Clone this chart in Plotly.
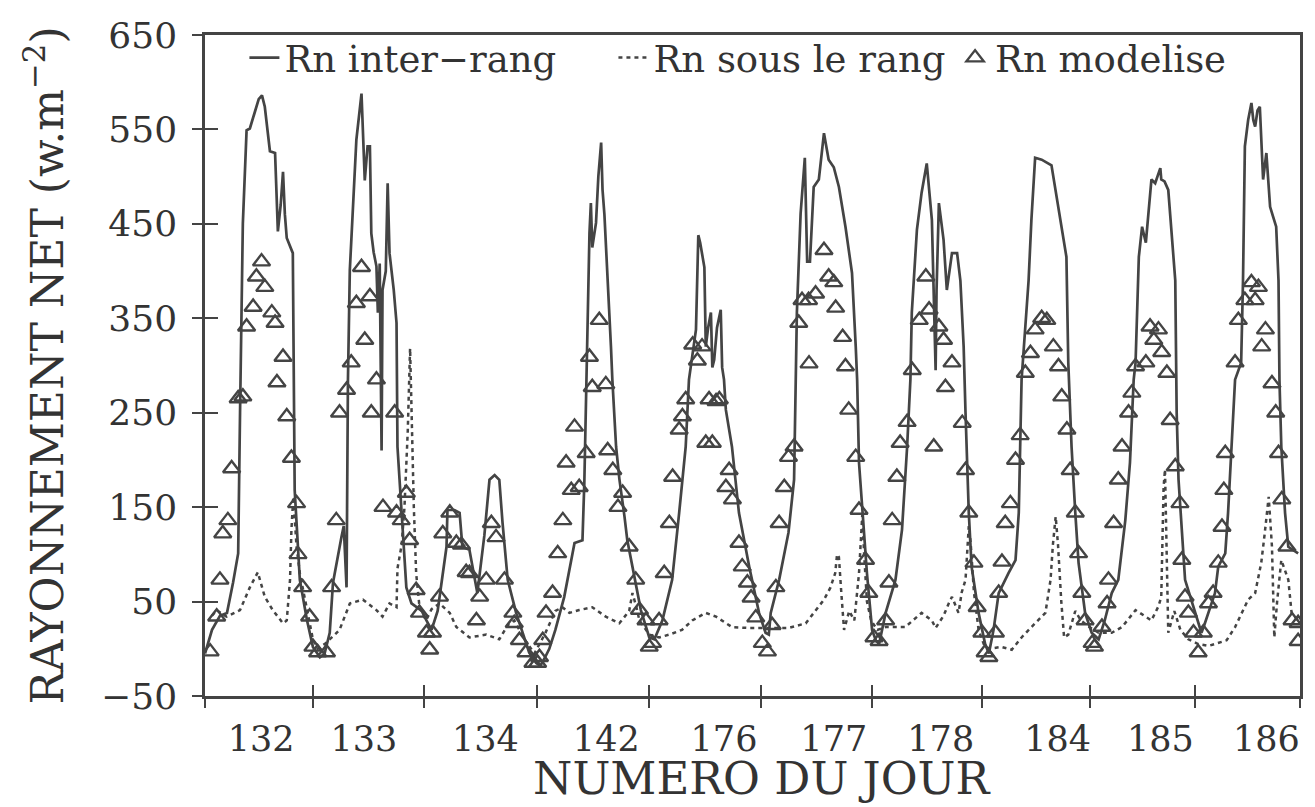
"""
Rayonnement net mesure (inter-rang, sous le rang) et modelise,
jours 132 a 186 mis bout a bout.
"""

import plotly.graph_objects as go

# Jours representes et position (heures depuis le debut) des etiquettes
DAYS = ["132", "133", "134", "142", "176", "177", "178", "184", "185", "186"]
LABEL_HOURS = [12.0, 34.0, 60.0, 85.9, 111.1, 134.6, 157.5, 182.5, 204.5, 227.2]
# Limites entre jours (heures cumulees)
DAY_BOUNDS = [0, 23.1, 46.8, 71.0, 95.1, 119.0, 142.8, 166.3, 189.5, 211.9, 234.4]
Y_TICKS = [-50, 50, 150, 250, 350, 450, 550, 650]

# Rn inter-rang (trait plein)
INTER_H = [
    0.0, 1.5, 3.2, 4.7, 6.0, 7.1, 7.5, 8.1, 8.9, 9.6, 10.7, 11.5, 12.2, 12.8,
    13.9, 15.0, 15.6, 16.2, 16.7, 17.1, 17.5, 18.8, 19.2, 19.7, 20.3, 21.8,
    23.1, 24.6, 25.6, 26.7, 27.4, 29.2, 29.7, 30.3, 30.6, 31.0, 32.4, 33.5,
    34.2, 34.8, 35.3, 35.6, 36.1, 36.7, 37.0, 37.4, 37.8, 38.0, 38.7, 39.1,
    39.5, 40.4, 41.0, 41.2, 42.3, 43.1, 44.2, 45.2, 46.4, 47.4, 48.5, 49.8,
    50.9, 51.7, 51.9, 53.4, 54.5, 55.1, 56.6, 58.3, 59.8, 60.9, 62.0, 63.0,
    63.7, 64.8, 66.6, 68.4, 69.4, 70.9, 71.8, 72.7, 73.7, 75.0, 76.9, 79.1,
    80.8, 81.2, 81.6, 81.8, 82.3, 82.6, 82.9, 83.7, 84.2, 84.8, 85.1, 85.5,
    85.8, 86.5, 86.9, 87.2, 88.0, 88.7, 89.8, 90.4, 91.5, 93.3, 95.1, 96.2,
    97.9, 100.0, 101.5, 102.9, 103.6, 105.1, 105.6, 106.0, 106.9, 107.2,
    107.7, 108.3, 108.6, 109.0, 109.6, 110.4, 110.7, 111.1, 111.5, 112.8,
    114.3, 116.5, 118.6, 120.0, 120.7, 121.1, 122.9, 124.9, 126.1, 126.4,
    126.7, 127.5, 128.4, 128.9, 129.5, 130.3, 131.4, 132.5, 133.5, 134.6,
    135.7, 137.1, 138.5, 139.3, 139.6, 140.0, 140.7, 141.7, 142.8, 143.6,
    144.3, 145.7, 147.8, 149.2, 150.3, 151.0, 151.3, 152.4, 153.4, 154.5,
    155.6, 156.0, 156.4, 156.6, 157.1, 158.1, 158.8, 159.9, 161.0, 161.7,
    162.4, 162.8, 163.5, 164.1, 165.6, 167.0, 167.8, 168.8, 169.9, 172.0,
    173.5, 174.2, 174.5, 174.8, 176.3, 176.9, 177.7, 179.1, 181.2, 182.7,
    184.4, 184.8, 185.5, 186.3, 187.0, 188.4, 189.8, 191.3, 192.6, 194.1,
    195.5, 197.0, 198.0, 198.8, 199.2, 199.9, 200.6, 201.4, 202.1, 202.6,
    203.4, 204.1, 204.5, 204.7, 205.4, 206.2, 206.9, 207.7, 208.0, 208.4,
    209.8, 212.0, 213.3, 213.9, 214.8, 216.2, 216.9, 218.4, 219.0, 219.7,
    220.5, 221.8, 222.2, 222.6, 223.3, 224.0, 224.4, 224.8, 225.3, 225.8,
    226.5, 227.2, 228.0, 229.3, 229.8, 230.0, 230.4, 231.2, 231.9, 234.0,
]
INTER_RN = [
    -5, 20, 35, 38, 70, 101, 250, 450, 549, 551, 569, 582, 586, 574,
    527, 525, 442, 470, 505, 460, 435, 419, 168, 126, 73, 31,
    2, -9, -5, 17, 70, 118, 130, 65, 285, 401, 539, 588,
    496, 532, 532, 440, 420, 405, 356, 408, 210, 380, 400, 493,
    419, 380, 345, 214, 126, 65, 48, 44, 40, 30, 20, 40,
    80, 108, 147, 147, 144, 108, 105, 59, 120, 179, 184, 179,
    133, 73, 38, 10, -4, -15, -18, -10, 0, 20, 55, 112,
    115, 176, 271, 348, 440, 472, 425, 451, 500, 536, 486, 460,
    425, 360, 320, 285, 214, 180, 140, 115, 87, 41, 12, 10,
    30, 73, 144, 214, 285, 338, 438, 430, 404, 320,
    340, 356, 298, 306, 340, 359, 298, 285, 253, 214,
    144, 87, 38, 17, 15, 38, 73, 123, 179, 285,
    356, 461, 520, 410, 410, 489, 497, 546, 518, 510,
    489, 447, 398, 320, 285, 197, 144, 80, 20, 9,
    5, 38, 73, 126, 214, 285, 356, 444, 483, 514,
    454, 380, 295, 380, 472, 433, 380, 419, 419, 390,
    320, 250, 144, 87, 38, 5, -5, 20, 59, 80,
    94, 144, 214, 285, 390, 454, 520, 518, 512, 468,
    415, 303, 214, 144, 91, 38, 17, 10, 30, 59,
    73, 136, 197, 285, 303, 415, 447, 430, 470, 497,
    493, 505, 509, 497, 495, 486, 444, 390, 250, 179,
    73, 38, 17, 25, 38, 59, 87, 101, 144, 214,
    285, 303, 390, 532, 560, 578, 560, 553, 570, 574,
    497, 525, 468, 447, 390, 285, 214, 144, 108, 101,
]

# Rn sous le rang (pointilles)
SOUS_H = [
    1.5, 2.5, 4.6, 7.5, 9.6, 11.3, 12.8, 14.5, 16.7, 17.5, 18.2, 18.5, 18.9,
    19.2, 19.6, 20.3, 20.9, 22.0, 23.1, 24.1, 25.6, 27.8, 28.8, 31.0, 33.8,
    36.7, 38.0, 39.5, 41.0, 41.2, 42.1, 42.7, 43.4, 43.9, 44.2, 44.7, 45.2,
    45.9, 47.3, 48.5, 50.2, 52.4, 53.8, 56.6, 60.2, 63.0, 64.8, 66.2, 68.4,
    70.5, 72.7, 75.0, 76.5, 78.0, 80.1, 82.9, 85.8, 88.7, 90.8, 91.5, 92.3,
    93.0, 95.1, 97.2, 99.4, 102.1, 104.3, 107.2, 109.4, 112.8, 116.5, 120.0,
    124.9, 128.6, 130.7, 132.5, 133.9, 134.9, 135.3, 135.7, 136.2, 136.8,
    137.9, 139.0, 140.0, 140.7, 141.1, 141.7, 142.6, 143.9, 145.7, 149.9,
    153.4, 155.6, 156.4, 158.1, 159.2, 159.9, 161.3, 162.0, 162.8, 163.1,
    163.5, 163.9, 164.6, 165.6, 166.7, 167.8, 170.5, 172.7, 174.8, 176.9,
    179.9, 181.0, 181.5, 182.1, 182.6, 183.3, 183.9, 184.8, 186.3, 187.5,
    189.3, 191.3, 194.1, 196.3, 199.2, 202.6, 204.1, 204.7, 205.2, 205.5,
    205.8, 206.2, 207.5, 208.8, 210.5, 212.6, 214.8, 218.7, 220.5, 223.3,
    224.8, 226.1, 226.8, 227.7, 228.4, 228.9, 229.5, 230.4, 231.9, 232.6,
    234.0,
]
SOUS_RN = [
    35, 41, 34, 41, 65, 81, 55, 41, 27, 30, 73, 126, 161,
    140, 108, 80, 65, 40, 10, 0, 5, 15, 20, 48, 52,
    41, 34, 48, 44, 85, 110, 150, 230, 318, 250, 150, 80,
    45, 30, 42, 48, 38, 23, 12, 15, 10, 25, 30, 10,
    -5, 15, 40, 44, 38, 41, 44, 34, 27, 40, 59, 45,
    30, 15, 12, 15, 20, 30, 38, 34, 23, 22, 22,
    22, 27, 41, 52, 65, 80, 100, 97, 60, 20,
    40, 30, 80, 142, 100, 50, 30, 20, 23, 23,
    38, 30, 22, 35, 48, 55, 38, 60, 73, 100,
    130, 112, 60, 20, 5, 0, 2, -1, 12, 23,
    38, 73, 110, 140, 110, 50, 12, 15, 40, 30,
    23, 17, 17, 23, 41, 30, 45, 55, 171, 190,
    100, 17, 40, 20, 10, 5, 3, 9, 23, 52,
    59, 91, 120, 161, 108, 12, 50, 94, 73, 38,
    30,
]

# Rn modelise (triangles)
MODEL_H = [
    1.1, 2.5, 3.2, 3.8, 4.9, 5.7, 7.1, 8.1, 8.9, 10.3, 11.0, 12.1, 12.8,
    14.3, 15.0, 15.4, 16.7, 17.5, 18.5, 19.6, 19.9, 20.9, 22.4, 23.1, 24.1,
    26.0,
    27.1, 28.1, 28.8, 30.3, 31.3, 32.4, 33.5, 34.2, 35.3, 35.6, 36.7, 38.1,
    40.6, 41.0, 42.0, 43.1, 43.8, 45.2, 45.9, 47.4, 48.1,
    48.7, 50.2, 50.9, 52.4, 53.8, 54.9, 55.9, 56.6, 58.1, 58.8, 60.2, 61.3,
    62.3, 64.1, 65.9, 66.2, 67.3, 68.7, 70.2, 71.2,
    71.6, 72.3, 73.0, 74.4, 75.5, 76.6, 77.3, 78.4, 79.1, 80.1, 81.6, 82.3,
    82.9, 84.4, 85.8, 86.2, 87.3, 88.4, 89.4, 90.8, 92.2, 93.0, 94.4, 95.1,
    95.8, 97.2,
    98.3, 99.4, 100.1, 101.5, 102.2, 102.9, 104.4, 105.4, 106.4, 107.2,
    107.9, 108.6, 109.4, 110.1, 111.5, 112.2, 112.9, 114.3, 115.0, 116.1,
    116.9, 117.9, 119.3, 120.4,
    121.4, 122.2, 122.9, 124.0, 124.9, 126.1, 127.1, 127.8, 129.2, 129.3,
    130.7, 132.5, 133.5, 134.6, 135.0, 136.5, 137.1, 137.8, 139.3, 140.0,
    141.4, 142.1, 143.2, 144.3,
    145.7, 146.4, 147.1, 148.1, 148.8, 150.3, 151.4, 152.9, 154.3, 155.0,
    156.0, 157.1, 158.1, 158.5, 159.9, 162.1, 162.8, 163.5, 164.6, 165.3,
    166.3, 167.0,
    167.8, 169.2, 169.9, 170.6, 171.3, 172.4, 173.5, 174.5, 175.6, 176.7,
    177.7, 179.1, 180.2, 181.6, 182.7, 183.4, 184.5, 185.2, 186.3, 187.0,
    187.7, 188.4, 189.9, 190.4, 192.0, 193.1, 193.4,
    194.5, 195.5, 196.3, 197.7, 198.4, 199.2, 201.4, 202.3, 203.1, 204.1,
    204.8, 205.9, 206.6, 207.7, 208.7, 209.1, 209.8, 210.5, 211.6, 212.6,
    213.7, 214.8, 215.8,
    216.9, 217.7, 218.1, 218.4, 220.5, 221.2, 222.6, 224.0, 224.8, 225.5,
    226.2, 227.0, 228.4, 229.2, 229.8, 230.5, 231.6, 232.7, 234.0, 234.0,
]
MODEL_RN = [
    -3, 34, 73, 122, 136, 191, 265, 267, 341, 362, 394, 410, 383,
    356, 345, 282, 309, 246, 202, 154, 100, 65, 34, 2, -4,
    -4,
    65, 136, 250, 274, 303, 366, 404, 327, 373, 250, 285, 150,
    250, 144, 136, 165, 115, 62, 38, 17, -1,
    17, 55, 122, 144, 112, 110, 81, 80, 30, 55, 73, 133,
    118, 73, 38, 27, 9, -4, -15, -15,
    -9, 9, 38, 59, 101, 136, 197, 168, 235, 171, 207, 309,
    277, 348, 280, 210, 189, 150, 165, 108, 73, 41, 30, 2,
    6, 30,
    80, 133, 182, 232, 246, 264, 322, 305, 320, 218,
    264, 218, 262, 264, 171, 189, 158, 112, 87, 70,
    54, 33, 6, -3,
    25, 65, 133, 171, 203, 214, 345, 369, 369, 302,
    376, 422, 394, 388, 361, 330, 299, 253, 203, 147,
    94, 59, 12, 8,
    30, 70, 136, 182, 218, 240, 295, 348, 394, 359,
    214, 341, 327, 277, 303, 239, 189, 144, 91, 44,
    17, -4,
    -9, 17, 59, 92, 133, 154, 200, 226, 292, 313,
    338, 350, 348, 320, 299, 267, 232, 189, 144, 101,
    59, 30, 6, 2, 23, 48, 73,
    133, 179, 214, 250, 271, 299, 303, 341, 327, 338,
    314, 292, 242, 193, 154, 94, 55, 38, 17, -4,
    17, 48, 59,
    91, 129, 168, 207, 303, 348, 369, 388, 369, 383,
    320, 338, 281, 250, 207, 158, 108, 30, 27, 8,
]

INK = "#444444"
FONT = "DejaVu Serif"

fig = go.Figure()

fig.add_trace(go.Scatter(
    x=INTER_H, y=INTER_RN, mode="lines", name="Rn inter\u2212rang",
    line=dict(color=INK, width=2.7), legend="legend",
))
fig.add_trace(go.Scatter(
    x=SOUS_H, y=SOUS_RN, mode="lines", name="Rn sous le rang",
    line=dict(color=INK, width=2.5, dash="4px,4px"), legend="legend2",
))
fig.add_trace(go.Scatter(
    x=MODEL_H, y=MODEL_RN, mode="markers", name="Rn modelise",
    marker=dict(symbol="triangle-up-open", size=15, color=INK,
                line=dict(color=INK, width=2.4)),
    legend="legend3",
))

# Axes superposes vides : graduations qui traversent les axes
fig.add_trace(go.Scatter(x=[None], y=[None], xaxis="x2", showlegend=False,
                         hoverinfo="skip"))
fig.add_trace(go.Scatter(x=[None], y=[None], xaxis="x3", showlegend=False,
                         hoverinfo="skip"))
fig.add_trace(go.Scatter(x=[None], y=[None], yaxis="y2", showlegend=False,
                         hoverinfo="skip"))

x_range = [DAY_BOUNDS[0], DAY_BOUNDS[-1]]
y_range = [-50, 650]

legend_style = dict(
    orientation="h", y=1.012, xanchor="left", yanchor="top",
    itemwidth=30, bgcolor="rgba(0,0,0,0)",
    font=dict(family=FONT, size=37, color="#333333"),
)

fig.update_layout(
    width=1315,
    height=807,
    margin=dict(l=205, r=13, t=35, b=111),
    paper_bgcolor="white",
    plot_bgcolor="white",
    font=dict(family=FONT, size=36, color="#333333"),
    showlegend=True,
    legend=dict(x=0.036, **legend_style),
    legend2=dict(x=0.373, **legend_style),
    legend3=dict(x=0.685, **legend_style),
    xaxis=dict(
        range=x_range,
        tickmode="array", tickvals=LABEL_HOURS, ticktext=DAYS,
        ticks="outside", ticklen=10, tickcolor="rgba(0,0,0,0)",
        showline=True, linecolor=INK, linewidth=2.5, mirror=True,
        showgrid=False, zeroline=False,
        tickfont=dict(size=35),
    ),
    xaxis2=dict(
        overlaying="x", matches="x", side="bottom",
        tickmode="array", tickvals=DAY_BOUNDS,
        ticks="outside", ticklen=11, tickwidth=2, tickcolor=INK,
        showticklabels=False, showline=False, showgrid=False, zeroline=False,
    ),
    xaxis3=dict(
        overlaying="x", matches="x", side="bottom",
        tickmode="array", tickvals=DAY_BOUNDS,
        ticks="inside", ticklen=11, tickwidth=2, tickcolor=INK,
        showticklabels=False, showline=False, showgrid=False, zeroline=False,
    ),
    yaxis=dict(
        range=y_range,
        tickmode="array", tickvals=Y_TICKS,
        ticks="outside", ticklen=10, tickwidth=2, tickcolor=INK,
        ticklabelstandoff=8,
        showline=True, linecolor=INK, linewidth=2.5, mirror=True,
        showgrid=False, zeroline=False,
        tickfont=dict(size=36),
        title=dict(text="RAYONNEMENT NET (w.m<sup>\u22122</sup>)",
                   font=dict(size=44), standoff=24),
    ),
    yaxis2=dict(
        overlaying="y", matches="y", side="left",
        tickmode="array", tickvals=Y_TICKS,
        ticks="inside", ticklen=13, tickwidth=2, tickcolor=INK,
        showticklabels=False, showline=False, showgrid=False, zeroline=False,
    ),
    annotations=[dict(
        text="NUMERO DU JOUR", xref="paper", yref="paper",
        x=0.508, y=-0.125, xanchor="center", yanchor="middle",
        showarrow=False, font=dict(family=FONT, size=45, color="#333333"),
    )],
)

# la page HTML a une marge de 8 px par defaut : on la supprime
fig.write_html(
    "out.html",
    config={"displayModeBar": False},
    post_script="document.body.style.margin = '0px';",
)
